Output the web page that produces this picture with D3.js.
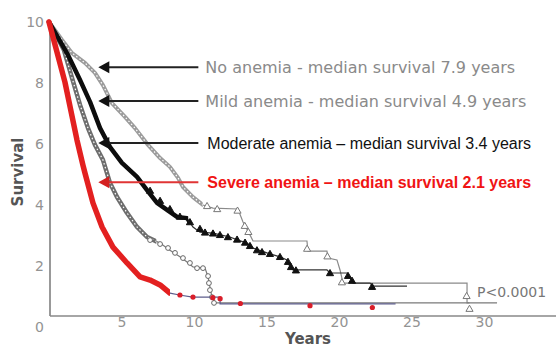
<!DOCTYPE html>
<html>
<head>
<meta charset="utf-8">
<script src="https://cdn.jsdelivr.net/npm/d3@7"></script>
<style>
  html, body { margin: 0; padding: 0; background: #fff; }
  svg { display: block; }
</style>
</head>
<body>
<div id="chart"></div>
<script>
const TIME_TICKS = [5, 10, 15, 20, 25, 30];
const SURV_TICKS = [0, 2, 4, 6, 8, 10];

const LEGEND_TEXT = [
  "No anemia - median survival 7.9 years",
  "Mild anemia - median survival 4.9 years",
  "Moderate anemia – median survival 3.4 years",
  "Severe anemia – median survival 2.1 years"
];
// survival level each legend arrow points at
const ARROW_SURV = [8.52, 7.41, 6.03, 4.75];
const P_TEXT = "P<0.0001";

// [years, survival]
const NO_ANEMIA = [
  [0, 10], [0.9, 9.41], [1.59, 8.98], [2.48, 8.66], [3.17, 8.33], [3.72, 7.93],
  [4.34, 7.34], [5.24, 6.89], [5.93, 6.52], [6.83, 5.97], [7.66, 5.54],
  [8.34, 5.25], [8.9, 4.89], [9.24, 4.59], [9.93, 4.26], [10.62, 4.0],
  [11.31, 3.9], [13.03, 3.87], [13.38, 3.44], [13.86, 3.02], [14.07, 2.82],
  [17.79, 2.82], [17.86, 2.49], [19.17, 2.49], [19.24, 2.26], [19.86, 2.2],
  [20.07, 1.87], [20.28, 1.44], [28.83, 1.44], [28.83, 0.79], [29.0, 0.79]
];
const NO_ANEMIA_CENSOR = [
  [10.9, 3.95], [11.6, 3.85], [13.0, 3.8], [13.5, 3.3], [13.75, 3.1],
  [17.8, 2.55], [19.2, 2.3], [20.2, 1.45], [28.8, 1.0], [29.0, 0.58]
];

const MILD = [
  [0, 10], [1.31, 8.92], [2.14, 8.1], [2.83, 7.38], [3.52, 6.52], [4.21, 5.9],
  [5.03, 5.38], [6.07, 4.92], [6.76, 4.49], [7.45, 4.07], [8.14, 3.84],
  [8.83, 3.61], [9.52, 3.57], [9.93, 3.28], [10.41, 3.11], [11.31, 3.08],
  [12.48, 2.95], [13.03, 2.85], [13.66, 2.75], [14.07, 2.59], [15.03, 2.43],
  [15.93, 2.3], [16.41, 2.2], [16.62, 1.97], [16.83, 1.87], [19.17, 1.87],
  [19.38, 1.77], [20.55, 1.77], [20.76, 1.61], [20.97, 1.44], [22.14, 1.44],
  [22.34, 1.34], [24.69, 1.34]
];
const MILD_CENSOR = [
  [6.97, 4.45], [7.66, 4.12], [8.34, 3.85], [9.03, 3.6], [9.72, 3.42],
  [10.41, 3.2], [10.76, 3.08], [11.31, 3.05], [11.79, 3.0], [12.34, 2.93],
  [12.97, 2.85], [13.52, 2.75], [13.86, 2.64], [14.34, 2.5], [14.69, 2.44],
  [15.24, 2.38], [15.93, 2.28], [16.48, 2.12], [16.69, 1.95], [17.03, 1.84],
  [19.38, 1.75], [20.62, 1.66], [20.9, 1.5], [22.28, 1.3]
];

const MODERATE = [
  [0, 10], [1.03, 9.08], [1.59, 8.16], [2.14, 7.28], [2.69, 6.52], [3.17, 5.97],
  [3.72, 5.48], [4.21, 4.72], [4.69, 4.26], [5.38, 3.74], [6.07, 3.28],
  [6.76, 2.95], [7.66, 2.75], [8.34, 2.52], [9.03, 2.3], [9.52, 2.13],
  [9.93, 1.97], [10.76, 1.93], [10.97, 1.64], [11.1, 1.31], [11.24, 0.98],
  [11.45, 0.79], [30.9, 0.79]
];
const MODERATE_CENSOR = [
  [6.97, 2.85], [7.66, 2.72], [8.21, 2.59], [8.69, 2.43], [9.24, 2.26],
  [9.72, 2.1], [10.21, 1.93], [10.62, 1.93], [10.97, 1.67], [11.03, 1.44],
  [11.1, 1.21], [11.24, 0.98], [11.38, 0.79]
];

const SEVERE = [
  [0, 10], [1.1, 8.03], [1.93, 6.13], [2.34, 5.31], [2.48, 5.05], [3.03, 4.07],
  [3.66, 3.28], [4.41, 2.62], [5.38, 2.1], [6.28, 1.64], [6.97, 1.54],
  [7.66, 1.38], [8.34, 1.11], [9.0, 1.05], [9.9, 0.98], [11.8, 0.98],
  [11.8, 0.76], [23.9, 0.76]
];
const SEVERE_CENSOR = [
  [9.03, 1.05], [9.93, 0.98], [11.3, 0.96], [11.8, 0.93], [13.2, 0.77],
  [18.0, 0.7], [22.3, 0.64]
];

const series = [
  { pts: NO_ANEMIA, censor: NO_ANEMIA_CENSOR, marker: "tri-open",
    line: "#8a8a8a", thick: "#9c9c9c", width: 4, until: 10.6, speckle: true },
  { pts: MODERATE, censor: MODERATE_CENSOR, marker: "circle-open",
    line: "#7a7a7a", thick: "#6e6e6e", width: 4.5, until: 7.4, speckle: true },
  { pts: MILD, censor: MILD_CENSOR, marker: "tri-filled",
    line: "#333", thick: "#0d0d0d", width: 4.5, until: 9.6, speckle: false },
  { pts: SEVERE, censor: SEVERE_CENSOR, marker: "dot",
    line: "#5d5d8c", thick: "#e32020", width: 5.5, until: 8.34, speckle: false }
];

const W = 556, H = 348;
const svg = d3.select("#chart").append("svg").attr("width", W).attr("height", H);

const x = d3.scaleLinear().domain([0, 30]).range([49, 484]);
const y = d3.scaleLinear().domain([0, 10]).range([327, 22]);

const tickFont = "'DejaVu Sans', sans-serif";

// axis lines
svg.append("line")
  .attr("x1", 50).attr("x2", 50).attr("y1", 28).attr("y2", 316)
  .attr("stroke", "#777").attr("stroke-width", 1.5);
svg.append("line")
  .attr("x1", 50).attr("x2", W).attr("y1", 316).attr("y2", 316)
  .attr("stroke", "#888").attr("stroke-width", 1.5);

// y ticks
const yAxis = svg.append("g")
  .attr("transform", "translate(44,0)")
  .call(d3.axisLeft(y).tickValues(SURV_TICKS).tickSize(0).tickPadding(0));
yAxis.select(".domain").remove();
yAxis.selectAll("text")
  .attr("fill", "#939393").style("font-family", tickFont).style("font-size", "14px");

// x ticks
const xAxis = svg.append("g")
  .attr("transform", "translate(0,317)")
  .call(d3.axisBottom(x).tickValues(TIME_TICKS).tickSize(0).tickPadding(0));
xAxis.select(".domain").remove();
xAxis.selectAll("text")
  .attr("fill", "#939393").style("font-family", tickFont).style("font-size", "14px");

svg.append("text")
  .attr("x", 308).attr("y", 344).attr("text-anchor", "middle")
  .attr("fill", "#555").style("font-family", tickFont)
  .style("font-size", "15px").style("font-weight", "bold")
  .text("Years");

svg.append("text")
  .attr("transform", "translate(23,172) rotate(-90)")
  .attr("text-anchor", "middle")
  .attr("fill", "#555").style("font-family", tickFont)
  .style("font-size", "15px").style("font-weight", "bold")
  .text("Survival");

const line = d3.line().x(d => x(d[0])).y(d => y(d[1]));
const defs = svg.append("defs");

series.forEach((s, i) => {
  const g = svg.append("g");
  g.append("path").attr("d", line(s.pts))
    .attr("fill", "none").attr("stroke", s.line).attr("stroke-width", 1.2);

  defs.append("clipPath").attr("id", "dense-" + i)
    .append("rect").attr("x", 0).attr("y", 0)
    .attr("width", x(s.until)).attr("height", H);

  const dense = g.append("g").attr("clip-path", `url(#dense-${i})`);
  dense.append("path").attr("d", line(s.pts))
    .attr("fill", "none").attr("stroke", s.thick)
    .attr("stroke-width", s.width)
    .attr("stroke-linejoin", "round").attr("stroke-linecap", "round");
  if (s.speckle) {
    dense.append("path").attr("d", line(s.pts))
      .attr("fill", "none").attr("stroke", "#fff")
      .attr("stroke-width", 1.2).attr("stroke-dasharray", "1.5 2.5");
  }

  const mk = g.selectAll(".m").data(s.censor).join("g")
    .attr("transform", d => `translate(${x(d[0])},${y(d[1])})`);
  if (s.marker === "tri-open" || s.marker === "tri-filled") {
    mk.append("path")
      .attr("d", d3.symbol(d3.symbolTriangle, 22)())
      .attr("fill", s.marker === "tri-open" ? "#fff" : "#111")
      .attr("stroke", s.marker === "tri-open" ? "#777" : "#111")
      .attr("stroke-width", 1);
  } else if (s.marker === "circle-open") {
    mk.append("circle").attr("r", 2.4)
      .attr("fill", "#fff").attr("stroke", "#666").attr("stroke-width", 1);
  } else {
    mk.append("circle").attr("r", 2.6).attr("fill", "#d91e2a");
  }
});

// legend arrows and labels
const arrowTip = x(3.4), arrowTail = x(10.3);
LEGEND_TEXT.forEach((t, i) => {
  const yy = y(ARROW_SURV[i]);
  const red = i === 3;
  const col = red ? "#e03535" : "#222";
  svg.append("line")
    .attr("x1", arrowTip + 8).attr("x2", arrowTail)
    .attr("y1", yy).attr("y2", yy)
    .attr("stroke", col).attr("stroke-width", 2);
  svg.append("path")
    .attr("d", `M${arrowTip},${yy}L${arrowTip + 11},${yy - 6}L${arrowTip + 11},${yy + 6}Z`)
    .attr("fill", red ? "#d42020" : "#111");

  const txt = svg.append("text")
    .attr("x", i < 2 ? arrowTail + 7 : arrowTail + 9)
    .attr("y", yy + 6)
    .text(t);
  if (i < 2) {
    txt.attr("fill", "#8a8a8a").style("font-family", tickFont).style("font-size", "16px");
  } else {
    txt.attr("fill", red ? "#f01414" : "#111")
      .style("font-family", "'Liberation Sans', Arial, sans-serif")
      .style("font-size", "16px")
      .style("font-weight", red ? "bold" : "normal");
  }
});

svg.append("text")
  .attr("x", 477).attr("y", 297)
  .attr("fill", "#777").style("font-family", tickFont).style("font-size", "14px")
  .text(P_TEXT);
</script>
</body>
</html>
